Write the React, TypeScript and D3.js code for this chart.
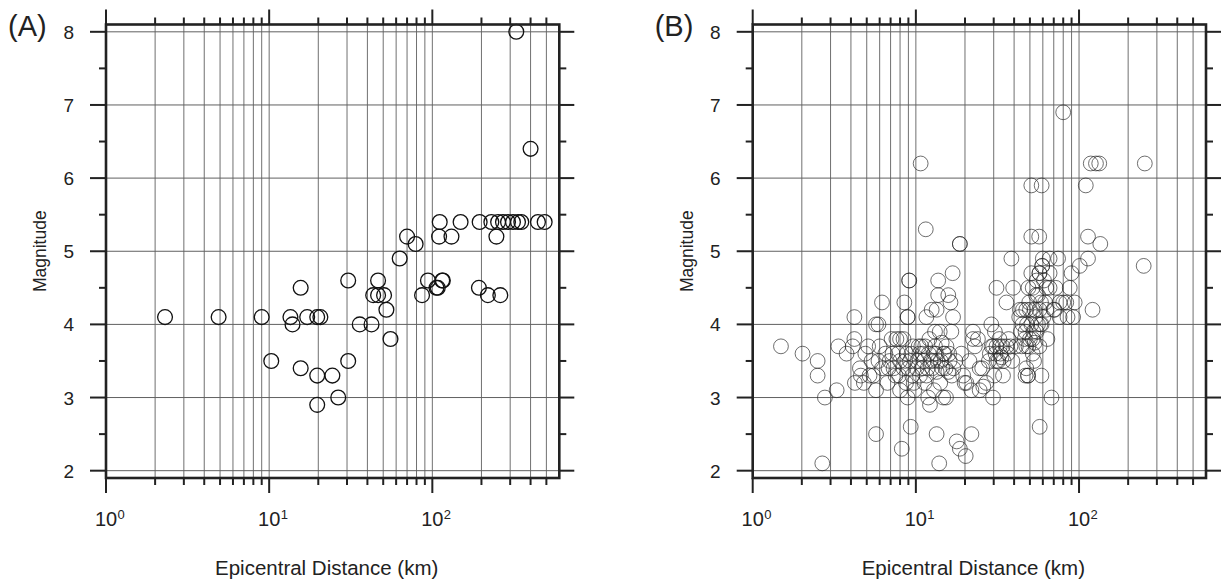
import React from "react";
import * as d3 from "d3";

const width = 1223;
const height = 588;

// magnitude axis
const yTicks = [2, 3, 4, 5, 6, 7, 8];
const yMinor = [2.5, 3.5, 4.5, 5.5, 6.5, 7.5];
// distance axis (log)
const xMajor = [1, 10, 100];
const xExponents = ["0", "1", "2"];
const xMinor = [2, 3, 4, 5, 6, 7, 8, 9, 20, 30, 40, 50, 60, 70, 80, 90, 200, 300, 400, 500];

// (A) distance km, magnitude
const eventsA: [number, number][] = [
  [2.3, 4.1], [4.9, 4.1], [9, 4.1], [10.3, 3.5], [13.5, 4.1], [13.9, 4.0], [15.6, 4.5], [15.6, 3.4],
  [17.1, 4.1], [19.7, 4.1], [20.6, 4.1], [19.7, 3.3], [19.7, 2.9], [24.4, 3.3], [26.5, 3.0], [30.5, 4.6],
  [30.5, 3.5], [35.9, 4.0], [42.4, 4.0], [43.4, 4.4], [46.5, 4.6], [46.5, 4.4], [50.6, 4.4], [52.3, 4.2],
  [55.4, 3.8], [63.1, 4.9], [70, 5.2], [79, 5.1], [86.5, 4.4], [94, 4.6], [106, 4.5], [108, 4.5],
  [115, 4.6], [116, 4.6], [110, 5.2], [131, 5.2], [111, 5.4], [149, 5.4], [195, 5.4], [193, 4.5],
  [219, 4.4], [261, 4.4], [247, 5.2], [230, 5.4], [253, 5.4], [271, 5.4], [291, 5.4], [312, 5.4],
  [335, 5.4], [351, 5.4], [444, 5.4], [488, 5.4], [327, 8.0], [400, 6.4],
];

// (B) distance km, magnitude
const eventsB: [number, number][] = [
  [1.49, 3.7], [2.02, 3.6], [2.5, 3.5], [2.5, 3.3], [2.67, 2.1], [2.77, 3.0], [3.27, 3.1], [3.35, 3.7],
  [3.76, 3.6], [4.1, 3.7], [4.2, 3.8], [4.2, 4.1], [4.23, 3.2], [4.54, 3.4], [4.8, 3.2], [4.9, 3.6],
  [4.6, 3.3], [5.1, 3.7], [5.35, 3.5], [5.2, 3.3], [5.5, 3.3], [5.7, 3.1], [5.7, 2.5], [5.7, 4.0],
  [5.9, 4.0], [5.9, 3.5], [6.2, 4.3], [6.2, 3.4], [6.5, 3.6], [6.7, 3.2], [6.9, 3.5], [7.1, 3.8],
  [7.3, 3.4], [7.6, 3.8], [7.5, 3.3], [7.8, 3.6], [8.0, 3.8], [8.0, 3.1], [8.0, 3.5], [8.2, 2.3],
  [8.4, 3.8], [8.4, 3.4], [8.5, 4.3], [8.7, 3.2], [8.9, 4.1], [8.9, 4.1], [8.9, 3.0], [8.8, 3.6],
  [9.1, 4.6], [9.1, 4.6], [9.3, 2.6], [9.2, 3.5], [9.5, 3.3], [9.6, 3.7], [9.8, 3.1],
  [6.0, 3.7], [6.8, 3.4], [7.2, 3.6], [7.9, 3.3], [8.6, 3.5], [9.0, 3.4], [9.4, 3.6], [9.7, 3.2],
  [10.2, 3.5], [10.5, 3.6], [10.6, 3.3], [10.7, 6.2], [10.8, 3.7], [10.9, 3.4], [11.2, 3.5], [11.4, 3.7],
  [11.5, 5.3], [11.6, 4.1], [11.6, 3.3], [11.9, 3.0], [12.0, 3.6], [12.2, 2.9], [12.3, 3.5], [12.5, 4.2],
  [12.6, 3.4], [13.0, 3.6], [13.1, 3.9], [13.1, 3.7], [13.4, 4.2], [13.4, 3.35], [13.4, 2.5], [13.6, 3.5],
  [13.7, 4.6], [13.7, 4.4], [13.9, 2.1], [14.0, 3.9], [14.4, 3.75], [14.5, 3.4], [14.7, 3.0], [15.0, 3.6],
  [15.3, 3.0], [15.4, 3.7], [15.8, 4.4], [15.8, 3.35], [16.1, 3.5], [16.3, 4.3], [16.5, 3.9], [16.8, 4.7],
  [16.9, 4.1], [17.0, 3.4], [17.8, 2.4], [18.6, 5.1], [18.6, 5.1], [18.6, 2.3], [19.0, 3.6], [19.5, 3.3],
  [10.1, 3.4], [10.4, 3.7], [11.0, 3.6], [11.8, 3.4], [12.1, 3.8], [12.8, 3.5], [13.3, 3.6], [14.2, 3.5],
  [14.8, 3.6], [15.2, 3.4], [16.0, 3.6], [16.6, 3.3], [17.5, 3.5], [11.3, 3.2], [12.9, 3.1], [14.1, 3.2],
  [19.9, 3.2], [20.2, 2.2], [20.4, 3.2], [21.3, 3.5], [21.9, 2.5], [21.9, 3.1], [22.4, 3.9], [22.4, 3.8],
  [23.0, 3.7], [24.0, 3.8], [24.6, 3.1], [24.6, 3.4], [25.5, 3.4], [25.9, 3.15], [27.0, 3.2], [28.4, 3.6],
  [29.0, 4.0], [29.1, 3.7], [29.7, 3.7], [29.7, 3.0], [30.5, 3.9], [31.2, 3.7], [31.2, 3.5], [31.2, 4.5],
  [32.0, 3.5], [32.7, 3.7], [33.5, 3.55], [33.0, 3.6], [34.2, 3.3], [34.5, 3.5], [35.9, 3.7], [35.9, 4.3],
  [30.8, 3.6], [32.5, 3.8], [34.0, 3.7], [36.5, 3.6], [38.0, 3.7], [30.2, 3.3], [28.0, 3.5],
  [37.0, 3.8], [38.5, 4.9], [39.0, 3.5], [39.5, 4.5], [41, 3.7], [43, 4.1], [43.4, 4.2], [44.5, 3.7],
  [45, 4.0], [45.3, 4.2], [46.5, 3.8], [47, 3.3], [47.5, 3.4], [47.5, 3.7], [47.5, 4.2], [48.7, 3.3],
  [48.7, 3.3], [49, 3.7], [50, 3.8], [50, 4.2], [51, 5.9], [51, 5.2], [51, 4.7], [51, 4.0], [52, 4.5],
  [52, 3.6], [52, 3.8], [53.5, 4.2], [53.5, 3.75], [54, 4.1], [55, 3.9], [56, 4.4], [57.2, 4.2],
  [44, 3.9], [48, 4.0], [49.5, 4.3], [52.5, 3.9], [54.5, 4.4], [56, 4.0], [58.5, 4.3], [60.5, 4.1],
  [55, 4.6], [49, 4.5], [53, 3.5], [47, 3.9],
  [57.2, 3.7], [57.2, 4.7], [57.2, 4.7], [57.4, 2.6], [57, 5.2], [58, 4.0], [58.8, 3.3], [59, 5.9],
  [59, 4.0], [59.5, 4.8], [59.5, 4.8], [60, 4.9], [61, 4.6], [62, 4.3], [63, 4.5], [63, 4.2], [64, 3.8],
  [66, 4.9], [66, 4.7], [66, 4.5], [67.8, 3.0], [70, 4.2], [70.8, 4.2], [72, 4.5], [74.4, 4.9], [76, 4.1],
  [76, 4.3], [80, 6.9], [80, 4.3], [83.5, 4.3], [85, 4.1], [87.7, 4.5], [90, 4.7], [92, 4.1], [94, 4.3],
  [101, 4.8], [110, 5.9], [113.5, 5.2], [113.5, 4.9], [118, 6.2], [121, 4.2], [127, 6.2], [133, 6.2],
  [135, 5.1], [249, 4.8], [253, 6.2],
];

const font = "'Liberation Sans', Arial, Helvetica, sans-serif";
const ink = "#222";

function Panel({ left, tag, data, stroke, opacity, sw }: {
  left: number; tag: string; data: [number, number][]; stroke: string; opacity: number; sw: number;
}) {
  const plotW = 453.3;
  const top = 24.5;
  const bottom = 478;
  const x = d3.scaleLog().domain([1, 600]).range([left, left + plotW]);
  const y = d3.scaleLinear().domain([1.9, 8.1]).range([bottom, top]);
  const [x0, x1] = x.range();
  const cx = (x0 + x1) / 2 - 6;

  return (
    <g>
      {/* grid */}
      {[...xMajor, ...xMinor].map((v) => (
        <line key={"gx" + v} x1={x(v)} x2={x(v)} y1={top} y2={bottom} stroke="#707070" strokeWidth={1} />
      ))}
      {yTicks.map((v) => (
        <line key={"gy" + v} x1={x0} x2={x1} y1={y(v)} y2={y(v)} stroke="#606060" strokeWidth={1} />
      ))}

      {/* events */}
      {data.map(([d, m], i) => (
        <circle key={i} cx={x(d)} cy={y(m)} r={7.4} fill="none" stroke={stroke}
          strokeOpacity={opacity} strokeWidth={sw} />
      ))}

      {/* ticks */}
      {yTicks.map((v) => (
        <g key={"ty" + v}>
          <line x1={x0 - 16} x2={x0} y1={y(v)} y2={y(v)} stroke={ink} strokeWidth={2} />
          <line x1={x1} x2={x1 + 15} y1={y(v)} y2={y(v)} stroke={ink} strokeWidth={2} />
          <text x={x0 - 32} y={y(v) + 7} textAnchor="end" fontSize={19} fill={ink} fontFamily={font}>{v}</text>
        </g>
      ))}
      {yMinor.map((v) => (
        <g key={"my" + v}>
          <line x1={x0 - 7} x2={x0} y1={y(v)} y2={y(v)} stroke={ink} strokeWidth={2} />
          <line x1={x1} x2={x1 + 7} y1={y(v)} y2={y(v)} stroke={ink} strokeWidth={2} />
        </g>
      ))}
      {xMajor.map((v, i) => (
        <g key={"tx" + v}>
          <line x1={x(v)} x2={x(v)} y1={top - 15} y2={top} stroke={ink} strokeWidth={2} />
          <line x1={x(v)} x2={x(v)} y1={bottom} y2={bottom + 15} stroke={ink} strokeWidth={2} />
          <text x={x(v)} y={526} textAnchor="middle" fontSize={20} fill={ink} fontFamily={font}>10</text>
          <text x={x(v) + 11.5} y={519} textAnchor="start" fontSize={13} fill={ink} fontFamily={font}>{xExponents[i]}</text>
        </g>
      ))}
      {xMinor.map((v) => (
        <g key={"mx" + v}>
          <line x1={x(v)} x2={x(v)} y1={top - 7} y2={top} stroke={ink} strokeWidth={2} />
          <line x1={x(v)} x2={x(v)} y1={bottom} y2={bottom + 7} stroke={ink} strokeWidth={2} />
        </g>
      ))}

      {/* frame */}
      <rect x={x0} y={top} width={x1 - x0} height={bottom - top} fill="none" stroke={ink} strokeWidth={2.6} />

      {/* labels */}
      <text x={cx} y={575} textAnchor="middle" fontSize={20.5} fill={ink} fontFamily={font}>
        Epicentral Distance (km)
      </text>
      <text transform={`translate(${x0 - 60},${(top + bottom) / 2}) rotate(-90)`} textAnchor="middle"
        fontSize={17.5} fill={ink} fontFamily={font}>Magnitude</text>
      <text x={x0 - 98} y={36} fontSize={29} fill={ink} fontFamily={font}>{tag}</text>
    </g>
  );
}

export default function App() {
  return (
    <svg width={width} height={height} style={{ position: "absolute", left: 0, top: 0, background: "#fff" }}>
      <rect width={width} height={height} fill="#fff" />
      <Panel left={106} tag="(A)" data={eventsA} stroke="#111" opacity={1} sw={1.3} />
      <Panel left={752.7} tag="(B)" data={eventsB} stroke="#222" opacity={0.65} sw={1} />
    </svg>
  );
}
